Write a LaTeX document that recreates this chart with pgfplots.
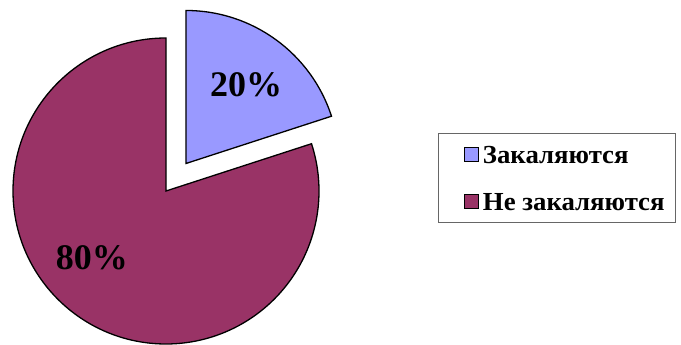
\documentclass[border=0pt]{standalone}
\usepackage{fontspec}
\setmainfont{Liberation Serif}
\usepackage{pgfplots}
\pgfplotsset{compat=1.18}
\definecolor{sliceA}{HTML}{9999FF}
\definecolor{sliceB}{HTML}{993366}
% data: share of each group, percent
\def\valA{20}
\def\valB{80}
\pgfmathsetmacro\angA{360*\valA/100}
\pgfmathsetmacro\startA{90}
\pgfmathsetmacro\endA{90-\angA}
\pgfmathsetmacro\midA{90-\angA/2}
\def\cx{166}
\def\cy{154}
\def\rr{153}
\pgfmathsetmacro\ex{\cx+34*cos(\midA)}
\pgfmathsetmacro\ey{\cy+34*sin(\midA)}
\pgfmathsetmacro\bxA{\ex+\rr*cos(\endA)}
\pgfmathsetmacro\byA{\ey+\rr*sin(\endA)}
\pgfmathsetmacro\cxB{\cx}
\pgfmathsetmacro\cyB{\cy+\rr}
\newcommand\legtext[1]{\scalebox{1.03}[1]{#1}}
\begin{document}
\begin{tikzpicture}
\begin{axis}[
  scale only axis, width=681pt, height=345pt,
  xmin=0, xmax=681, ymin=0, ymax=345,
  axis lines=none, clip=false,
  legend style={at={(axis cs:438,212)}, anchor=north west,
    draw=black!60, line width=1.3pt, inner xsep=9pt, inner ysep=6.5pt,
    font=\fontsize{26}{30}\selectfont\bfseries,
    nodes={text height=20pt, text depth=3pt, inner ysep=3pt},
    row sep=18pt},
  legend cell align=left,
  legend image code/.code={\path (0pt,0pt) (32pt,0pt); \draw[#1,line width=1.2pt] (16pt,-7pt) rectangle (30pt,7pt);},
]
\path (axis cs:0,0) rectangle (axis cs:681,345);
\addlegendimage{fill=sliceA,draw=black}
\addlegendentry{\legtext{Закаляются}}
\addlegendimage{fill=sliceB,draw=black}
\addlegendentry{\legtext{Не закаляются}}
% big slice (80 %)
\filldraw[fill=sliceB, draw=black, line width=1.3pt, line join=miter]
  (axis cs:\cx,\cy) -- (axis cs:\cxB,\cyB)
  arc[start angle=\startA, end angle=\endA+360, radius=\rr pt] -- cycle;
% exploded slice (20 %)
\filldraw[fill=sliceA, draw=black, line width=1.3pt, line join=miter]
  (axis cs:\ex,\ey) -- (axis cs:\bxA,\byA)
  arc[start angle=\endA, end angle=\startA, radius=\rr pt] -- cycle;
\node[font=\fontsize{36}{40}\selectfont\bfseries] at (axis cs:246,260) {\valA\%};
\node[font=\fontsize{36}{40}\selectfont\bfseries] at (axis cs:92,87) {\valB\%};
\end{axis}
\end{tikzpicture}
\end{document}
